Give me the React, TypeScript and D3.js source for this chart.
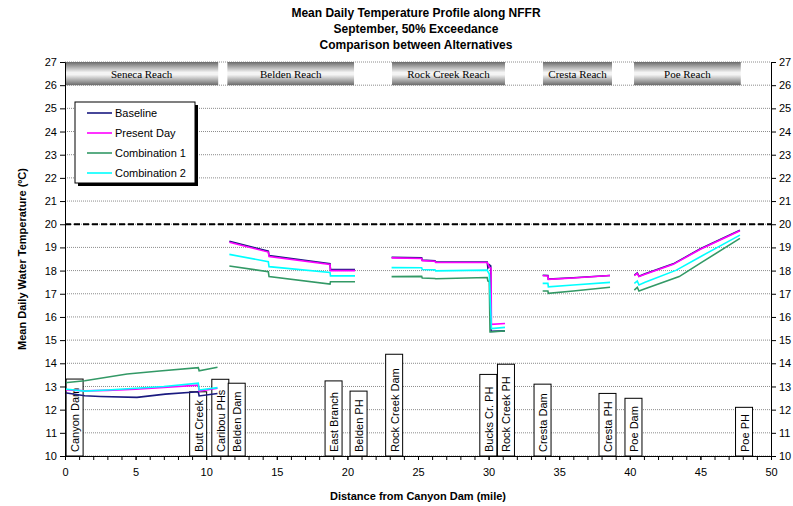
import React, { useEffect, useRef } from "react";
import * as d3 from "d3";

type Pt = [number, number] | null;

// tick labels
const yTickValues = [10, 11, 12, 13, 14, 15, 16, 17, 18, 19, 20, 21, 22, 23, 24, 25, 26, 27];
const xTickValues = [0, 5, 10, 15, 20, 25, 30, 35, 40, 45, 50];
const xMinorTicks = d3.range(0, 51);

// reaches (mile start / end)
const reachNames = ["Seneca Reach", "Belden Reach", "Rock Creek Reach", "Cresta Reach", "Poe Reach"];
const reachStart = [0, 11.5, 23.16, 33.85, 40.3];
const reachEnd = [10.85, 20.47, 31.16, 38.74, 47.86];

// landmarks (mile, top of label box in deg C)
const landmarkNames = ["Canyon Dam", "Butt Creek", "Caribou PHs", "Belden Dam", "East Branch", "Belden PH",
    "Rock Creek Dam", "Bucks Cr. PH", "Rock Creek PH", "Cresta Dam", "Cresta PH", "Poe Dam", "Poe PH"];
const landmarkMiles = [0.68, 9.43, 11.0, 12.16, 19.02, 20.79, 23.31, 29.98, 31.23, 33.82, 38.42, 40.26, 48.09];
const landmarkTops = [13.32, 12.77, 13.31, 13.14, 13.24, 12.8, 14.39, 13.52, 13.96, 13.1, 12.7, 12.49, 12.1];

// series (null = gap between reaches)
const baseline: Pt[] = [
    [0, 12.73], [1.4, 12.6], [2.5, 12.57], [5.1, 12.53], [7.1, 12.67], [9.44, 12.77], [9.5, 12.59], [10.8, 12.7],
    null,
    [11.64, 19.27], [14.4, 18.84], [14.45, 18.65], [18.77, 18.3], [18.8, 18.04], [20.54, 18.04],
    null,
    [23.13, 18.57], [25.26, 18.55], [25.3, 18.45], [26.2, 18.42], [26.25, 18.37], [29.9, 18.37], [29.95, 18.12],
    [30.05, 18.25], [30.15, 18.2], [30.17, 15.38], [31.16, 15.4],
    null,
    [33.83, 17.8], [34.2, 17.79], [34.23, 17.63], [36, 17.69], [38.6, 17.79],
    null,
    [40.32, 17.8], [40.53, 17.9], [40.65, 17.76], [41.08, 17.86], [43.08, 18.29], [45, 18.94], [47.8, 19.74],
];

const presentDay: Pt[] = [
    [0, 12.86], [1.4, 12.81], [3, 12.83], [5, 12.88], [7, 12.96], [9.44, 13.06], [9.5, 12.8], [10.8, 12.92],
    null,
    [11.64, 19.22], [14.4, 18.8], [14.45, 18.61], [18.77, 18.26], [18.8, 18.0], [20.54, 18.0],
    null,
    [23.13, 18.55], [25.26, 18.52], [25.3, 18.43], [26.2, 18.4], [26.25, 18.35], [29.9, 18.35], [29.95, 18.3],
    [30.05, 18.15], [30.17, 18.1], [30.2, 15.68], [31.16, 15.72],
    null,
    [33.83, 17.78], [34.2, 17.77], [34.23, 17.62], [36, 17.68], [38.6, 17.79],
    null,
    [40.32, 17.78], [40.53, 17.88], [40.65, 17.74], [41.08, 17.84], [43.08, 18.27], [45, 18.92], [47.8, 19.72],
];

const combination1: Pt[] = [
    [0, 13.16], [1.4, 13.25], [4.4, 13.54], [6.7, 13.67], [9.44, 13.81], [9.5, 13.68], [10.8, 13.83],
    null,
    [11.64, 18.2], [14.4, 17.95], [14.45, 17.74], [18.77, 17.42], [18.8, 17.52], [20.54, 17.52],
    null,
    [23.13, 17.74], [25.26, 17.75], [25.3, 17.68], [26.2, 17.66], [26.25, 17.65], [29.9, 17.7], [29.95, 17.55],
    [30.05, 17.52], [30.1, 15.35], [31.16, 15.4],
    null,
    [33.83, 17.12], [34.2, 17.12], [34.23, 17.02], [36, 17.12], [38.6, 17.28],
    null,
    [40.32, 17.16], [40.53, 17.28], [40.65, 17.12], [41.08, 17.22], [43.5, 17.74], [45, 18.32], [47.8, 19.39],
];

const combination2: Pt[] = [
    [0, 12.89], [1.4, 12.8], [3, 12.85], [5, 12.92], [7, 13.0], [9.44, 13.14], [9.5, 12.85], [10.8, 12.95],
    null,
    [11.64, 18.7], [14.4, 18.38], [14.45, 18.17], [18.77, 17.92], [18.8, 17.77], [20.54, 17.77],
    null,
    [23.13, 18.13], [25.26, 18.12], [25.3, 18.05], [26.2, 18.03], [26.25, 17.99], [29.9, 18.02], [29.95, 17.95],
    [30.05, 17.85], [30.2, 15.5], [31.16, 15.55],
    null,
    [33.83, 17.45], [34.2, 17.45], [34.23, 17.3], [36, 17.38], [38.6, 17.49],
    null,
    [40.32, 17.45], [40.53, 17.55], [40.65, 17.38], [41.08, 17.5], [43.3, 18.02], [45, 18.6], [47.8, 19.53],
];

const seriesNames = ["Baseline", "Present Day", "Combination 1", "Combination 2"];
const seriesColors = ["#1a1a80", "#ff00ff", "#339966", "#00ffff"];
const seriesData = [baseline, presentDay, combination1, combination2];

const thresholdValue = 20;

export default function App() {
    const ref = useRef<SVGSVGElement>(null);

    useEffect(() => {
        document.body.style.margin = "0";
        const svg = d3.select(ref.current);
        svg.selectAll("*").remove();

        const width = 793;
        const height = 506;
        const margin = { top: 62, right: 22, bottom: 50, left: 65 };
        const x = d3.scaleLinear().domain([0, 50]).range([margin.left, width - margin.right]);
        const y = d3.scaleLinear().domain([10, 27]).range([height - margin.bottom, margin.top]);
        const sans = "Arial, 'Liberation Sans', sans-serif";

        const defs = svg.append("defs");
        const grad = defs.append("linearGradient")
            .attr("id", "reachGrad")
            .attr("x1", 0).attr("y1", 0).attr("x2", 0).attr("y2", 1);
        grad.append("stop").attr("offset", "0%").attr("stop-color", "#6a6a6a");
        grad.append("stop").attr("offset", "45%").attr("stop-color", "#f4f4f4");
        grad.append("stop").attr("offset", "55%").attr("stop-color", "#f4f4f4");
        grad.append("stop").attr("offset", "100%").attr("stop-color", "#6a6a6a");

        // gridlines
        svg.append("g")
            .selectAll("line")
            .data(yTickValues)
            .enter()
            .append("line")
            .attr("x1", x(0)).attr("x2", x(50))
            .attr("y1", d => y(d)).attr("y2", d => y(d))
            .attr("stroke", "#8c8c8c")
            .attr("stroke-dasharray", "1,1");

        // 20 deg line
        svg.append("line")
            .attr("x1", x(0)).attr("x2", x(50))
            .attr("y1", y(thresholdValue)).attr("y2", y(thresholdValue))
            .attr("stroke", "#000")
            .attr("stroke-width", 2)
            .attr("stroke-dasharray", "6,3");

        // reach bars
        const reaches = svg.append("g")
            .selectAll("g")
            .data(reachNames)
            .enter()
            .append("g");
        reaches.append("rect")
            .attr("x", (d, i) => x(reachStart[i]))
            .attr("y", y(27))
            .attr("width", (d, i) => x(reachEnd[i]) - x(reachStart[i]))
            .attr("height", y(26) - y(27))
            .attr("fill", "url(#reachGrad)");
        reaches.append("text")
            .attr("x", (d, i) => (x(reachStart[i]) + x(reachEnd[i])) / 2)
            .attr("y", (y(26) + y(27)) / 2 + 4)
            .attr("text-anchor", "middle")
            .style("font-family", "'Times New Roman', 'Liberation Serif', serif")
            .style("font-size", "11px")
            .text(d => d);

        // landmark boxes
        const marks = svg.append("g")
            .selectAll("g")
            .data(landmarkNames)
            .enter()
            .append("g");
        marks.append("rect")
            .attr("x", (d, i) => x(landmarkMiles[i]) - 8.5)
            .attr("y", (d, i) => y(landmarkTops[i]))
            .attr("width", 17)
            .attr("height", (d, i) => y(10) - y(landmarkTops[i]))
            .attr("fill", "#fff")
            .attr("stroke", "#000");
        marks.append("text")
            .attr("transform", (d, i) => `translate(${x(landmarkMiles[i]) + 4.5},${y(10) - 4}) rotate(-90)`)
            .style("font-family", sans)
            .style("font-size", "11px")
            .text(d => d);

        // series lines
        const lineGenerator = d3.line<Pt>()
            .defined(d => d !== null)
            .x(d => x((d as [number, number])[0]))
            .y(d => y((d as [number, number])[1]));

        svg.append("g")
            .selectAll("path")
            .data(seriesData)
            .enter()
            .append("path")
            .attr("d", d => lineGenerator(d))
            .attr("fill", "none")
            .attr("stroke", (d, i) => seriesColors[i])
            .attr("stroke-width", 1.6);

        // axes
        const leftAxis = svg.append("g")
            .attr("transform", `translate(${x(0)},0)`)
            .call(d3.axisLeft(y).tickValues(yTickValues).tickSize(5).tickSizeOuter(0).tickPadding(3));
        const rightAxis = svg.append("g")
            .attr("transform", `translate(${x(50)},0)`)
            .call(d3.axisRight(y).tickValues(yTickValues).tickSize(5).tickSizeOuter(0).tickPadding(3));
        svg.append("g")
            .attr("transform", `translate(0,${y(10)})`)
            .call(d3.axisBottom(x).tickValues(xMinorTicks).tickSize(4).tickSizeOuter(0).tickFormat(() => ""));
        const bottomAxis = svg.append("g")
            .attr("transform", `translate(0,${y(10)})`)
            .call(d3.axisBottom(x).tickValues(xTickValues).tickSize(4).tickSizeOuter(0).tickPadding(8));

        [leftAxis, rightAxis, bottomAxis].forEach(a => {
            a.selectAll("text")
                .style("font-family", sans)
                .style("font-size", "11px")
                .attr("fill", "#000");
        });
        svg.selectAll(".domain").attr("stroke", "#000");

        // titles
        const titles = ["Mean Daily Temperature Profile along NFFR", "September, 50% Exceedance", "Comparison between Alternatives"];
        svg.append("g")
            .selectAll("text")
            .data(titles)
            .enter()
            .append("text")
            .attr("x", 416)
            .attr("y", (d, i) => 17 + i * 16)
            .attr("text-anchor", "middle")
            .style("font-family", "'Liberation Sans Narrow', 'Arial Narrow', Arial, sans-serif")
            .style("font-size", "12px")
            .style("font-weight", "bold")
            .text(d => d);

        svg.append("text")
            .attr("x", (x(0) + x(50)) / 2)
            .attr("y", 500)
            .attr("text-anchor", "middle")
            .style("font-family", sans)
            .style("font-size", "11px")
            .style("font-weight", "bold")
            .text("Distance from Canyon Dam (mile)");

        svg.append("text")
            .attr("transform", `translate(26,${(y(10) + y(27)) / 2}) rotate(-90)`)
            .attr("text-anchor", "middle")
            .style("font-family", sans)
            .style("font-size", "11px")
            .style("font-weight", "bold")
            .text("Mean Daily Water Temperature (ºC)");

        // legend
        const legend = svg.append("g").attr("transform", "translate(75,102)");
        legend.append("rect")
            .attr("x", 3).attr("y", 3)
            .attr("width", 120).attr("height", 81)
            .attr("fill", "#000");
        legend.append("rect")
            .attr("width", 120).attr("height", 81)
            .attr("fill", "#fff")
            .attr("stroke", "#000");
        const entries = legend.selectAll("g.entry")
            .data(seriesNames)
            .enter()
            .append("g")
            .attr("class", "entry")
            .attr("transform", (d, i) => `translate(0,${11 + i * 20})`);
        entries.append("line")
            .attr("x1", 12).attr("x2", 37)
            .attr("stroke", (d, i) => seriesColors[i])
            .attr("stroke-width", 1.6);
        entries.append("text")
            .attr("x", 40)
            .attr("y", 4)
            .style("font-family", sans)
            .style("font-size", "11px")
            .text(d => d);
    }, []);

    return <svg ref={ref} width={793} height={506} style={{ display: "block" }} />;
}
